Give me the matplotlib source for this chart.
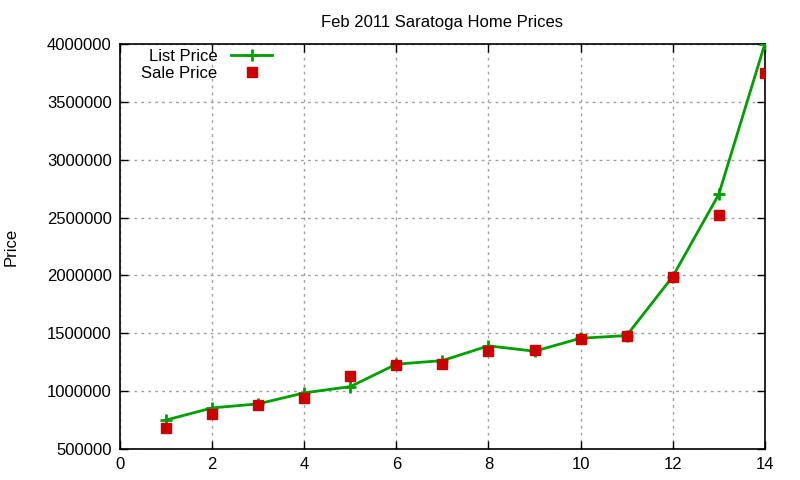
import matplotlib
matplotlib.use("Agg")
import matplotlib.pyplot as plt

plt.rcParams["font.family"] = ["Liberation Sans", "DejaVu Sans"]

# listing number and prices
houses = [1, 2, 3, 4, 5, 6, 7, 8, 9, 10, 11, 12, 13, 14]
list_price = [750000, 855000, 890000, 985000, 1039000, 1233000, 1264000,
              1391000, 1345000, 1457000, 1480000, 1990000, 2700000, 4000000]
sale_price = [684000, 805000, 883000, 944000, 1134000, 1225000, 1238000,
              1350000, 1356000, 1451000, 1480000, 1990000, 2518000, 3746000]

fig = plt.figure(figsize=(8, 4.8), dpi=100)
ax = fig.add_axes([0.15, 0.0646, 0.806, 0.8438])

ax.plot(houses, list_price, color="#00a000", linewidth=2, marker="+",
        markersize=9, markeredgewidth=2, label="List Price", zorder=3)
ax.plot(houses, sale_price, linestyle="none", color="#cc0000", marker="s",
        markersize=7.5, label="Sale Price", zorder=4)

ax.set_xlim(0, 14)
ax.set_ylim(500000, 4000000)
ax.set_xticks(range(0, 15, 2))
ax.set_yticks(range(500000, 4000001, 500000))
ax.ticklabel_format(axis="y", style="plain", useOffset=False)
ax.grid(True, color="#a0a0a0", linestyle=(0, (2, 3)), linewidth=1)
ax.tick_params(direction="in", top=True, right=True, length=6, width=1,
               labelsize=12, pad=6)
for s in ax.spines.values():
    s.set_linewidth(1.2)

ax.set_title("Feb 2011 Saratoga Home Prices", fontsize=12, pad=12)
ax.set_ylabel("Price", fontsize=12, labelpad=20)

ax.legend(loc="upper left", frameon=False, markerfirst=False, fontsize=12,
          handlelength=2.5, borderaxespad=0.1, labelspacing=0.1,
          bbox_to_anchor=(0.02, 1.008))

fig.savefig("out.png", dpi=100)
